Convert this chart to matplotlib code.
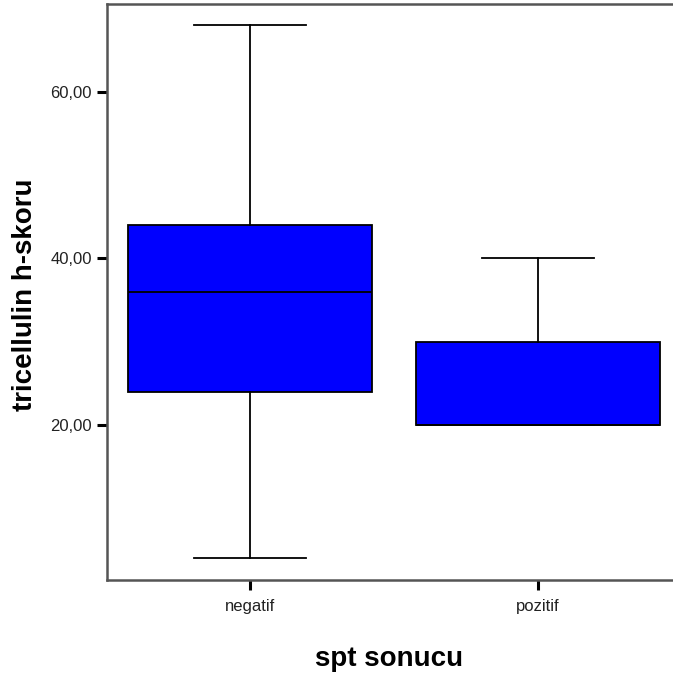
import matplotlib
matplotlib.use("Agg")
import matplotlib.pyplot as plt

categories = ["negatif", "pozitif"]
whisker_low = [4, 20]
q1 = [24, 20]
median = [36, 20]
q3 = [44, 30]
whisker_high = [68, 40]
yticks = [20, 40, 60]
ytick_labels = ["20,00", "40,00", "60,00"]

W, H = 673, 678
fig = plt.figure(figsize=(W / 100, H / 100), dpi=100)
ax = fig.add_axes([107 / W, 1 - 580 / H, (673 - 107) / W, (580 - 4) / H])

stats = []
for i, c in enumerate(categories):
    stats.append(dict(label=c, whislo=whisker_low[i], q1=q1[i], med=median[i],
                      q3=q3[i], whishi=whisker_high[i], fliers=[]))

ax.bxp(stats, positions=[0, 1], widths=0.85, patch_artist=True, showfliers=False,
       boxprops=dict(facecolor="#0000FF", edgecolor="black", linewidth=1.3),
       medianprops=dict(color="black", linewidth=1.3),
       whiskerprops=dict(color="black", linewidth=1.3),
       capprops=dict(color="black", linewidth=1.3),
       capwidths=0.39)

ax.set_xlim(-0.4965, 1.469)
ax.set_ylim(1.4, 70.5)
ax.set_yticks(yticks)
ax.set_yticklabels(ytick_labels, fontsize=12, family="Liberation Sans", color="#222222")
ax.set_xticks([0, 1])
ax.set_xticklabels(categories, fontsize=12, family="Liberation Sans", color="#222222")
ax.tick_params(axis="both", length=7.2, width=2.2, color="black", pad=3.6)
ax.tick_params(axis="x", pad=6.5)

for s in ["left", "bottom", "top"]:
    ax.spines[s].set_color("#555555")
    ax.spines[s].set_linewidth(1.8)
ax.spines["right"].set_visible(False)

fig.text(25 / W, 1 - 295 / H, "tricellulin h-skoru", rotation=90, ha="center",
         va="center", fontsize=20, fontweight="bold", family="Liberation Sans")
fig.text(389 / W, 1 - 666 / H, "spt sonucu", ha="center", va="baseline",
         fontsize=20, fontweight="bold", family="Liberation Sans")

fig.savefig("out.png", dpi=100)
